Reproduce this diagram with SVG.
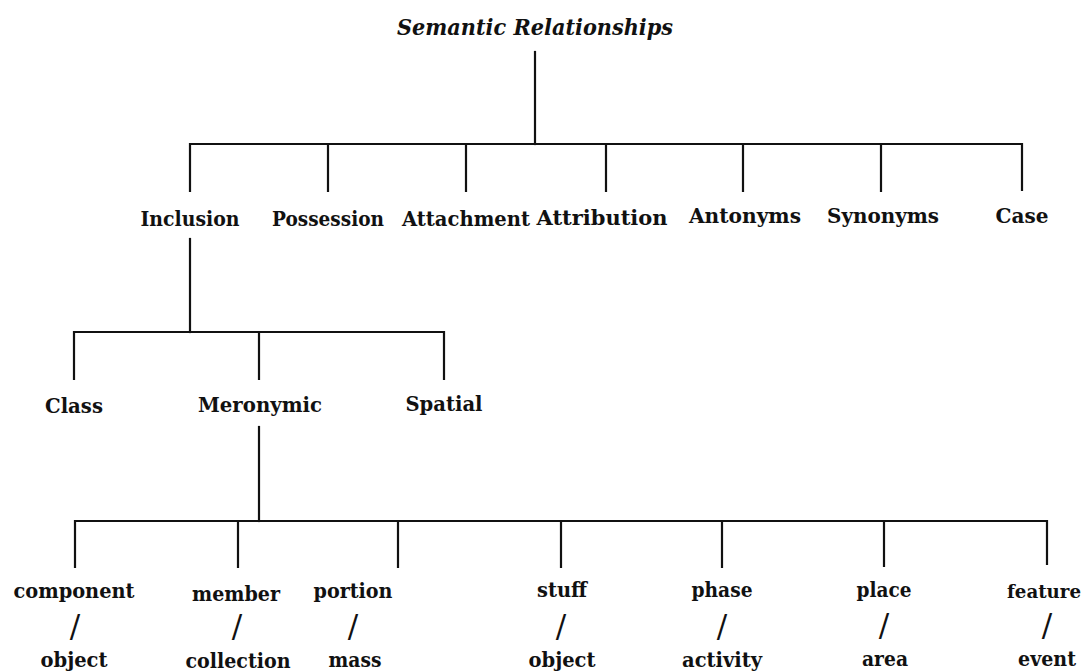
<svg xmlns="http://www.w3.org/2000/svg" width="1088" height="671" viewBox="0 0 1088 671">
<style>
.bg{fill:#ffffff}
.c{fill:none;stroke:#111;stroke-width:2.2;stroke-linecap:square}
text{font-family:"DejaVu Serif","Liberation Serif",serif;font-weight:bold;font-size:21px;fill:#111;text-anchor:middle}
.title{font-style:italic;font-size:22px}
.sl{font-size:31px;font-weight:normal}
.sm{font-size:19px}
</style>
<rect class="bg" x="0" y="0" width="1088" height="671"/>
<g id="connectors">
<path class="c" d="M535 52 V144"/>
<path class="c" d="M190 191 V144 H1022 V190"/>
<path class="c" d="M328 144 V191 M466 144 V191 M606 144 V191 M743 144 V191 M881 144 V191"/>
<path class="c" d="M190 239 V332"/>
<path class="c" d="M74 379 V332 H444 V379 M259 332 V379"/>
<path class="c" d="M259 427 V521"/>
<path class="c" d="M75 567 V521 H1047 V564"/>
<path class="c" d="M238 521 V567 M398 521 V567 M561 521 V567 M722 521 V567 M884 521 V566"/>
</g>
<g id="semantic-relationships"><text class="title" x="535" y="35" textLength="276" lengthAdjust="spacingAndGlyphs">Semantic Relationships</text></g>
<g id="inclusion"><text x="190" y="226" textLength="99" lengthAdjust="spacingAndGlyphs">Inclusion</text></g>
<g id="possession"><text x="328" y="226" textLength="112" lengthAdjust="spacingAndGlyphs">Possession</text></g>
<g id="attachment"><text x="466" y="226" textLength="128" lengthAdjust="spacingAndGlyphs">Attachment</text></g>
<g id="attribution"><text x="602" y="225" textLength="131" lengthAdjust="spacingAndGlyphs">Attribution</text></g>
<g id="antonyms"><text x="745" y="223" textLength="112" lengthAdjust="spacingAndGlyphs">Antonyms</text></g>
<g id="synonyms"><text x="883" y="223" textLength="112" lengthAdjust="spacingAndGlyphs">Synonyms</text></g>
<g id="case"><text x="1022" y="223" textLength="53" lengthAdjust="spacingAndGlyphs">Case</text></g>
<g id="class"><text x="74" y="413" textLength="58" lengthAdjust="spacingAndGlyphs">Class</text></g>
<g id="meronymic"><text x="260" y="412" textLength="124" lengthAdjust="spacingAndGlyphs">Meronymic</text></g>
<g id="spatial"><text x="444" y="411" textLength="77" lengthAdjust="spacingAndGlyphs">Spatial</text></g>
<g id="component-object">
<text x="74" y="598" textLength="121" lengthAdjust="spacingAndGlyphs">component</text>
<text class="sl" x="75" y="637">/</text>
<text x="74" y="667" textLength="67" lengthAdjust="spacingAndGlyphs">object</text>
</g>
<g id="member-collection">
<text x="236" y="601" textLength="88" lengthAdjust="spacingAndGlyphs">member</text>
<text class="sl" x="237" y="637">/</text>
<text x="238" y="668" textLength="105" lengthAdjust="spacingAndGlyphs">collection</text>
</g>
<g id="portion-mass">
<text x="353" y="598" textLength="79" lengthAdjust="spacingAndGlyphs">portion</text>
<text class="sl" x="353" y="637">/</text>
<text x="355" y="667" textLength="53" lengthAdjust="spacingAndGlyphs">mass</text>
</g>
<g id="stuff-object">
<text x="562" y="597" textLength="50" lengthAdjust="spacingAndGlyphs">stuff</text>
<text class="sl" x="561" y="637">/</text>
<text x="562" y="667" textLength="67" lengthAdjust="spacingAndGlyphs">object</text>
</g>
<g id="phase-activity">
<text x="722" y="597" textLength="61" lengthAdjust="spacingAndGlyphs">phase</text>
<text class="sl" x="722" y="637">/</text>
<text x="722" y="667" textLength="80" lengthAdjust="spacingAndGlyphs">activity</text>
</g>
<g id="place-area">
<text x="884" y="597" textLength="55" lengthAdjust="spacingAndGlyphs">place</text>
<text class="sl" x="884" y="636">/</text>
<text x="885" y="666" textLength="46" lengthAdjust="spacingAndGlyphs">area</text>
</g>
<g id="feature-event">
<text class="sm" x="1044" y="598" textLength="74" lengthAdjust="spacingAndGlyphs">feature</text>
<text class="sl" x="1047" y="636">/</text>
<text x="1047" y="666" textLength="58" lengthAdjust="spacingAndGlyphs">event</text>
</g>
</svg>
